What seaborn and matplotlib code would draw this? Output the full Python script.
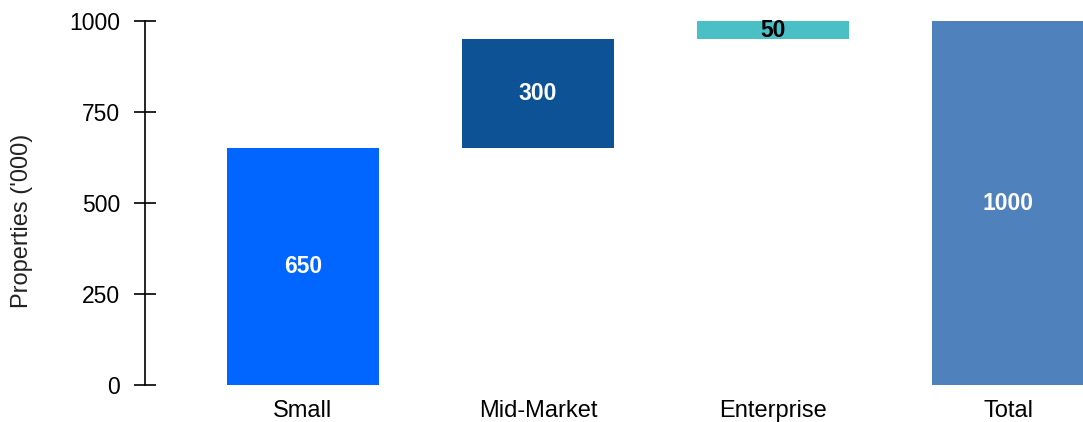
import matplotlib
matplotlib.use("Agg")
import matplotlib.pyplot as plt
import seaborn as sns
import pandas as pd

categories = ["Small", "Mid-Market", "Enterprise", "Total"]
values = [650, 300, 50, 1000]
bottoms = [0, 650, 950, 0]
colors = ["#0066FF", "#0E5296", "#4BBFC6", "#4F81BD"]
label_colors = ["white", "white", "black", "white"]
yticks = [0, 250, 500, 750, 1000]

sns.set_theme(style="white")
plt.rcParams["font.family"] = ["Liberation Sans", "DejaVu Sans"]

fig = plt.figure(figsize=(10.83, 4.22), dpi=100)
ax = fig.add_axes([145/1083, 1 - 385/422, 1 - 145/1083, (385 - 21)/422])

df = pd.DataFrame({"category": categories, "value": values})
sns.barplot(data=df, x="category", y="value", hue="category", palette=colors,
            order=categories, width=0.647, legend=False, ax=ax, saturation=1)

for patch, b, v, lc in zip(ax.patches, bottoms, values, label_colors):
    patch.set_y(b)
    patch.set_linewidth(0)
    cx = patch.get_x() + patch.get_width() / 2
    ax.text(cx, b + v / 2, f"{v}", ha="center", va="center", color=lc,
            fontsize=16.5, fontweight="bold")

ax.set_xlim(-0.672, 3.319)
ax.set_ylim(0, 1000)
ax.set_yticks(yticks)
ax.set_yticklabels([str(t) for t in yticks])
ax.set_xlabel("")
ax.set_ylabel("Properties ('000)", fontsize=17, va="center", color="#222222")
ax.yaxis.set_label_coords((22 - 145) / 938, (385 - 221) / 364)
ax.tick_params(axis="y", direction="inout", length=16, width=1.2, color="black",
               left=True, labelsize=16.5, pad=10, labelcolor="black")
ax.tick_params(axis="x", length=0, labelsize=17, pad=11, labelcolor="black")
for s in ["top", "right", "bottom"]:
    ax.spines[s].set_visible(False)
ax.spines["left"].set_color("black")
ax.spines["left"].set_linewidth(1.2)

fig.savefig("out.png", dpi=100)
